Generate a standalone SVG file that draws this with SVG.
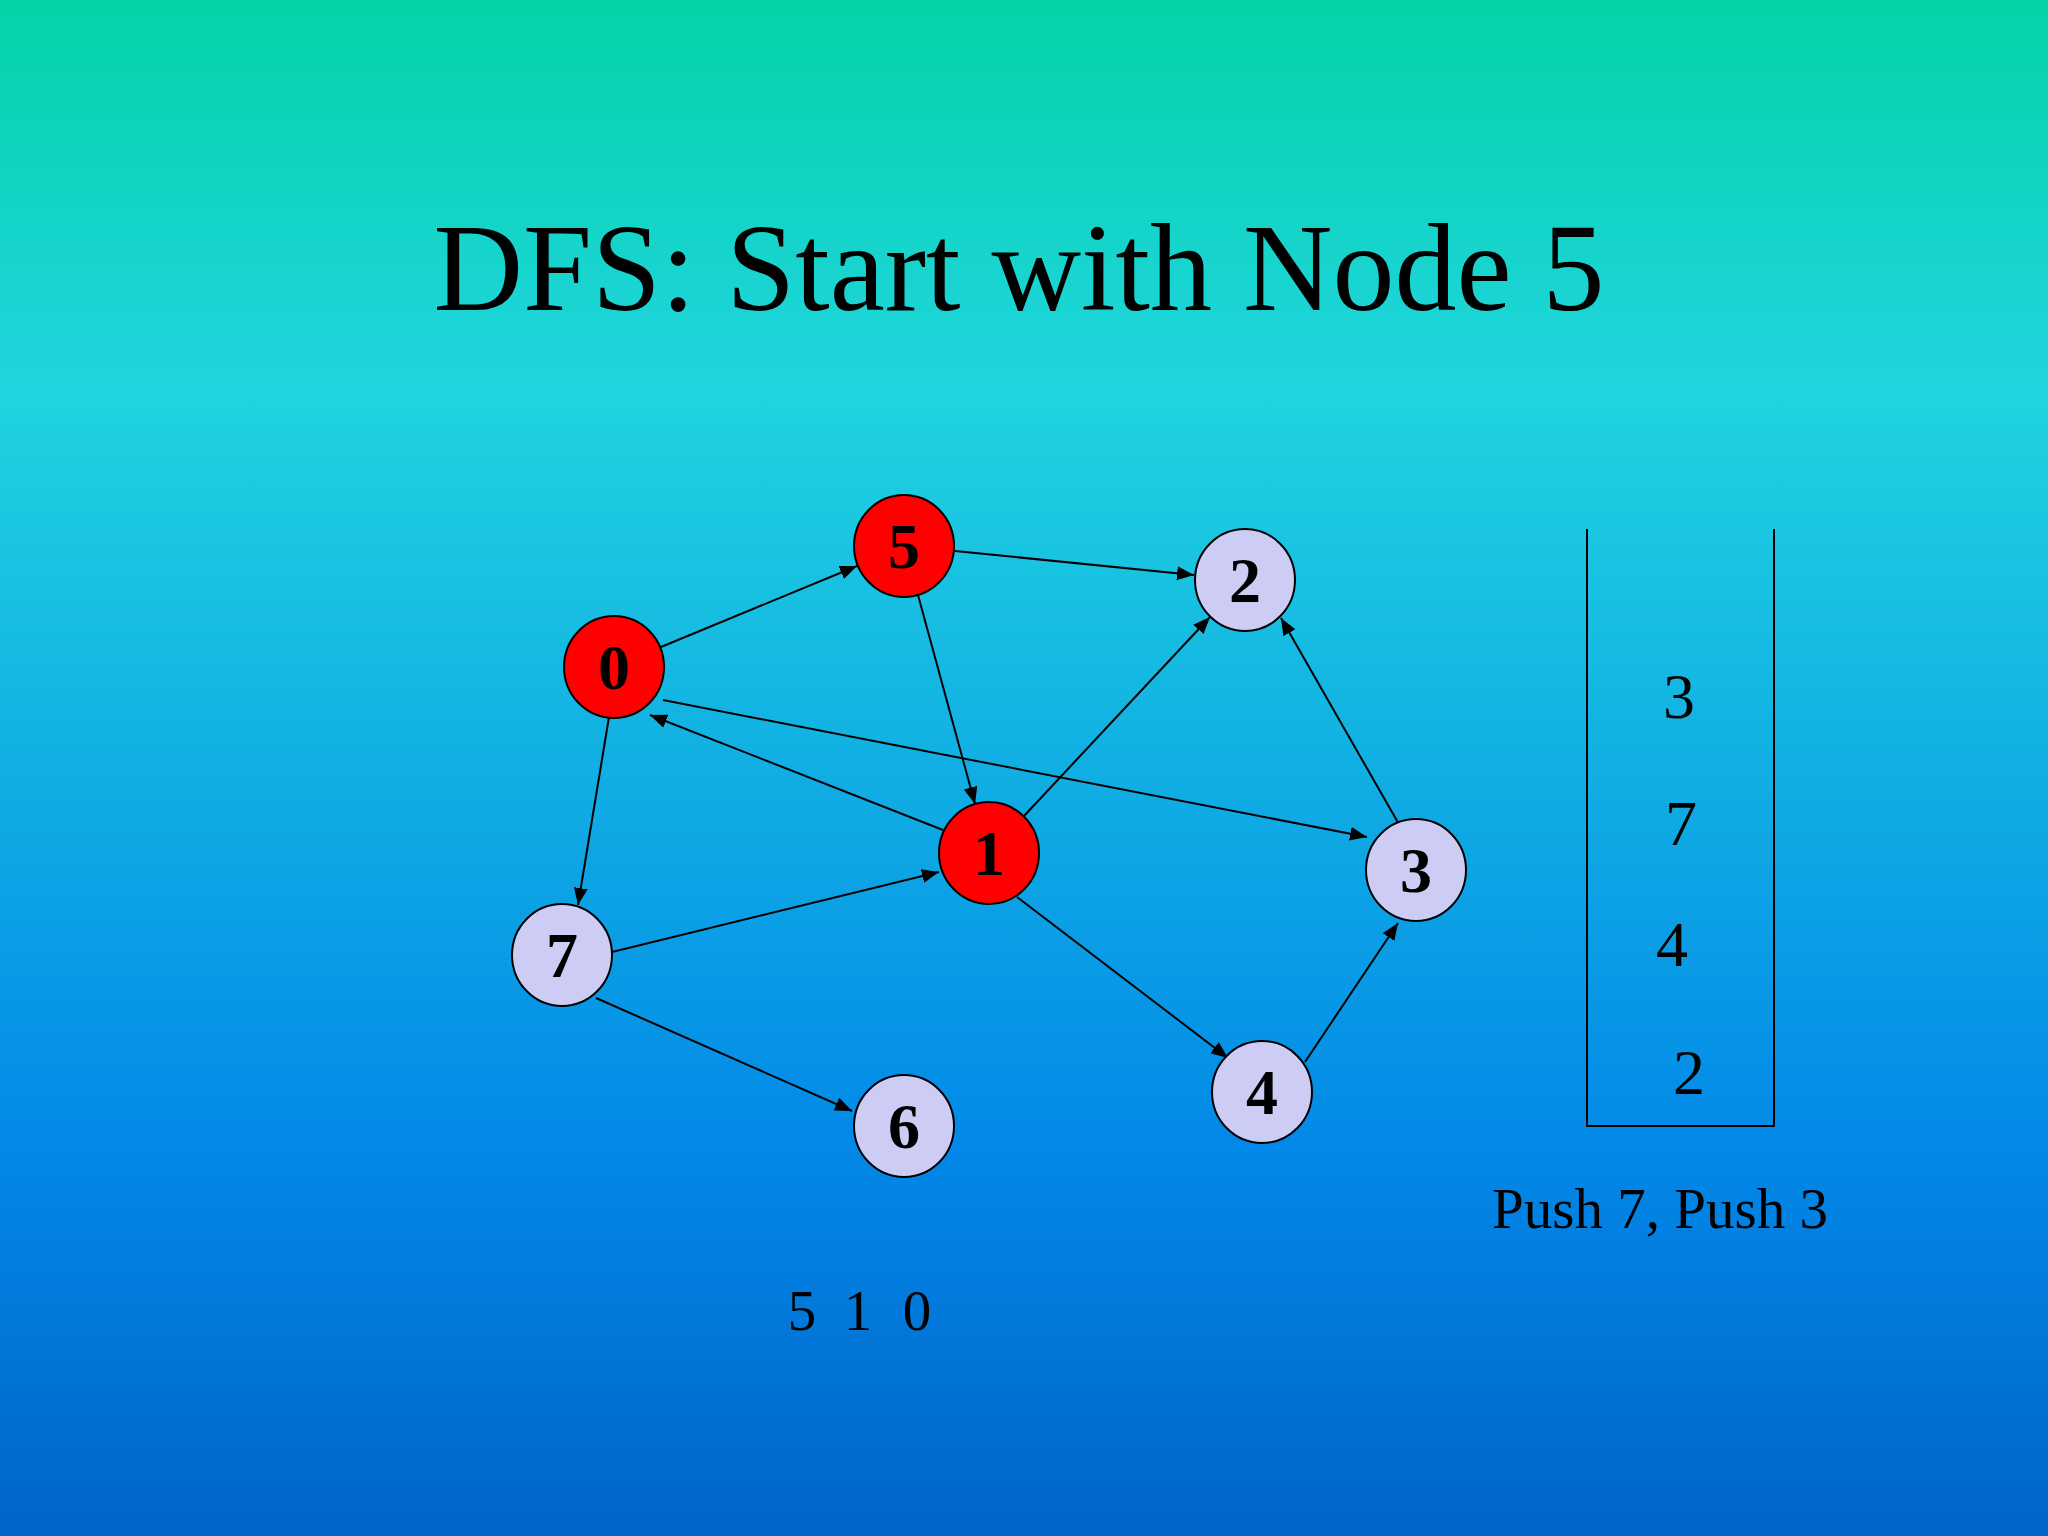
<svg xmlns="http://www.w3.org/2000/svg" width="2048" height="1536" viewBox="0 0 2048 1536">
<defs>
<linearGradient id="bg" x1="0" y1="0" x2="0" y2="1">
<stop offset="0" stop-color="#04D3A8"/>
<stop offset="0.25" stop-color="#20D5DF"/>
<stop offset="0.75" stop-color="#0288E8"/>
<stop offset="1" stop-color="#0064C8"/>
</linearGradient>
<marker id="arr" markerUnits="userSpaceOnUse" markerWidth="18" markerHeight="14" refX="17" refY="7" orient="auto">
<path d="M0,0 L17,7 L0,14 Z" fill="#000"/>
</marker>
<style>
.e{stroke:#000;stroke-width:2;fill:none;marker-end:url(#arr)}
.n{stroke:#000;stroke-width:2}
.red{fill:#FF0000}
.gry{fill:#CCCCF5}
.lbl{font-family:"Liberation Serif",serif;font-weight:bold;font-size:64px;text-anchor:middle}
.t{font-family:"Liberation Serif",serif;fill:#000}
</style>
</defs>
<rect width="2048" height="1536" fill="url(#bg)"/>
<text class="t" x="1019" y="310" font-size="124" text-anchor="middle">DFS: Start with Node 5</text>
<g id="connectors">
<line class="e" x1="661" y1="647" x2="857" y2="566"/>
<line class="e" x1="955" y1="551" x2="1194" y2="575"/>
<line class="e" x1="918" y1="595" x2="975" y2="804"/>
<line class="e" x1="943" y1="830" x2="650" y2="715"/>
<line class="e" x1="663" y1="700" x2="1367" y2="837"/>
<line class="e" x1="609" y1="717" x2="578" y2="905"/>
<line class="e" x1="612" y1="952" x2="939" y2="872"/>
<line class="e" x1="1024" y1="816" x2="1210" y2="617"/>
<line class="e" x1="1400" y1="826" x2="1281" y2="618"/>
<line class="e" x1="1017" y1="897" x2="1228" y2="1058"/>
<line class="e" x1="1305" y1="1062" x2="1398" y2="923"/>
<line class="e" x1="596" y1="998" x2="852" y2="1111"/>
</g>
<g id="node5"><ellipse class="n red" cx="904" cy="546" rx="50" ry="51"/><text class="lbl" x="904" y="568">5</text></g>
<g id="node2"><ellipse class="n gry" cx="1245" cy="580" rx="50" ry="51"/><text class="lbl" x="1245" y="602">2</text></g>
<g id="node0"><ellipse class="n red" cx="614" cy="667" rx="50" ry="51"/><text class="lbl" x="614" y="689">0</text></g>
<g id="node1"><ellipse class="n red" cx="989" cy="853" rx="50" ry="51"/><text class="lbl" x="989" y="875">1</text></g>
<g id="node3"><ellipse class="n gry" cx="1416" cy="870" rx="50" ry="51"/><text class="lbl" x="1416" y="892">3</text></g>
<g id="node7"><ellipse class="n gry" cx="562" cy="955" rx="50" ry="51"/><text class="lbl" x="562" y="977">7</text></g>
<g id="node4"><ellipse class="n gry" cx="1262" cy="1092" rx="50" ry="51"/><text class="lbl" x="1262" y="1114">4</text></g>
<g id="node6"><ellipse class="n gry" cx="904" cy="1126" rx="50" ry="51"/><text class="lbl" x="904" y="1148">6</text></g>
<g id="stack">
<polyline points="1587,529 1587,1126 1774,1126 1774,529" fill="none" stroke="#000" stroke-width="2"/>
<text class="t" font-size="64" x="1679" y="718" text-anchor="middle">3</text>
<text class="t" font-size="64" x="1681" y="845" text-anchor="middle">7</text>
<text class="t" font-size="64" x="1672" y="966" text-anchor="middle">4</text>
<text class="t" font-size="64" x="1689" y="1094" text-anchor="middle">2</text>
</g>
<text class="t" font-size="57" x="1660" y="1228" text-anchor="middle">Push 7, Push 3</text>
<g id="visited" class="t" font-size="57">
<text x="802" y="1330" text-anchor="middle">5</text>
<text x="858" y="1330" text-anchor="middle">1</text>
<text x="917" y="1330" text-anchor="middle">0</text>
</g>
</svg>
